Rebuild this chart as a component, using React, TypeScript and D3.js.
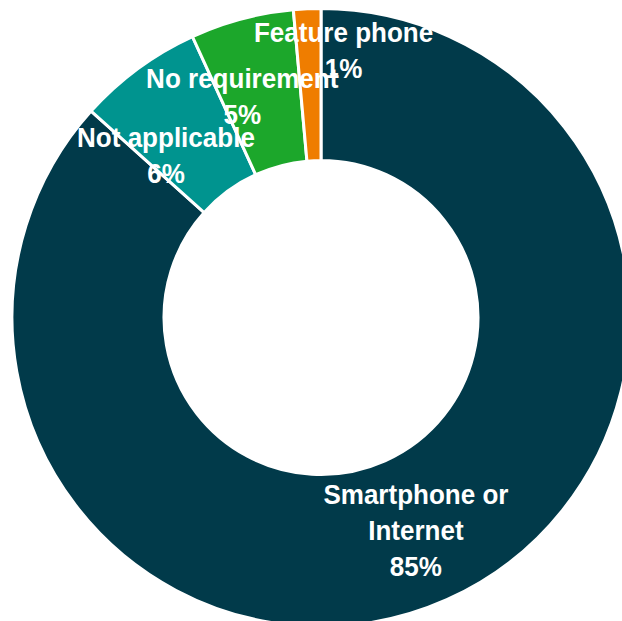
import React from "react";
import * as d3 from "d3";

const categories = ["Smartphone or\nInternet", "Not applicable", "No requirement", "Feature phone"];
const values = [85, 6.4, 5.3, 1.4];
const colors = ["#013a4a", "#00948f", "#1ca72b", "#ef7d00"];
// label nudges relative to slice centroid (layout only)
const labelNudge: [number, number][] = [
  [0, 0],
  [-17, 25],
  [-19, 4],
  [33, -35],
];

const W = 622;
const H = 621;
const CX = 321;
const CY = 317.5;
const R_OUT = 309;
const R_IN = 157;
const FONT = 28;
const LINE = 36;
const CAP = 20;
const SX = 0.93;

export default function App() {
  const data = categories.map((c, i) => ({ name: c, value: values[i], color: colors[i] }));
  const pie = d3
    .pie<any>()
    .sort(null)
    .value((d: any) => d.value)
    .startAngle(0)
    .endAngle(2 * Math.PI);
  const arcs = pie(data);
  const arc = d3.arc<any>().innerRadius(R_IN).outerRadius(R_OUT);
  const fmt = (v: number) => d3.format(".0f")(v) + "%";

  return (
    <svg
      width={W}
      height={H}
      style={{ position: "absolute", left: 0, top: 0, display: "block", background: "#fff" }}
    >
      <g transform={`translate(${CX},${CY})`}>
        {arcs.map((a, i) => (
          <path key={i} d={arc(a) as string} fill={a.data.color} stroke="#ffffff" strokeWidth={3} strokeLinejoin="miter" />
        ))}
        {arcs.map((a, i) => {
          const [cx, cy] = arc.centroid(a);
          const x = cx + labelNudge[i][0];
          const y = cy + labelNudge[i][1];
          const lines = [...a.data.name.split("\n"), fmt(a.data.value)];
          const first = y - ((lines.length - 1) * LINE) / 2 + CAP / 2;
          return (
            <g key={"l" + i} transform={`translate(${x},0) scale(${SX},1)`}>
              {lines.map((t: string, j: number) => (
                <text
                  key={j}
                  x={0}
                  y={first + j * LINE}
                  textAnchor="middle"
                  fill="#ffffff"
                  fontFamily="'Liberation Sans', Arial, sans-serif"
                  fontWeight="bold"
                  fontSize={FONT}
                >
                  {t}
                </text>
              ))}
            </g>
          );
        })}
      </g>
    </svg>
  );
}
